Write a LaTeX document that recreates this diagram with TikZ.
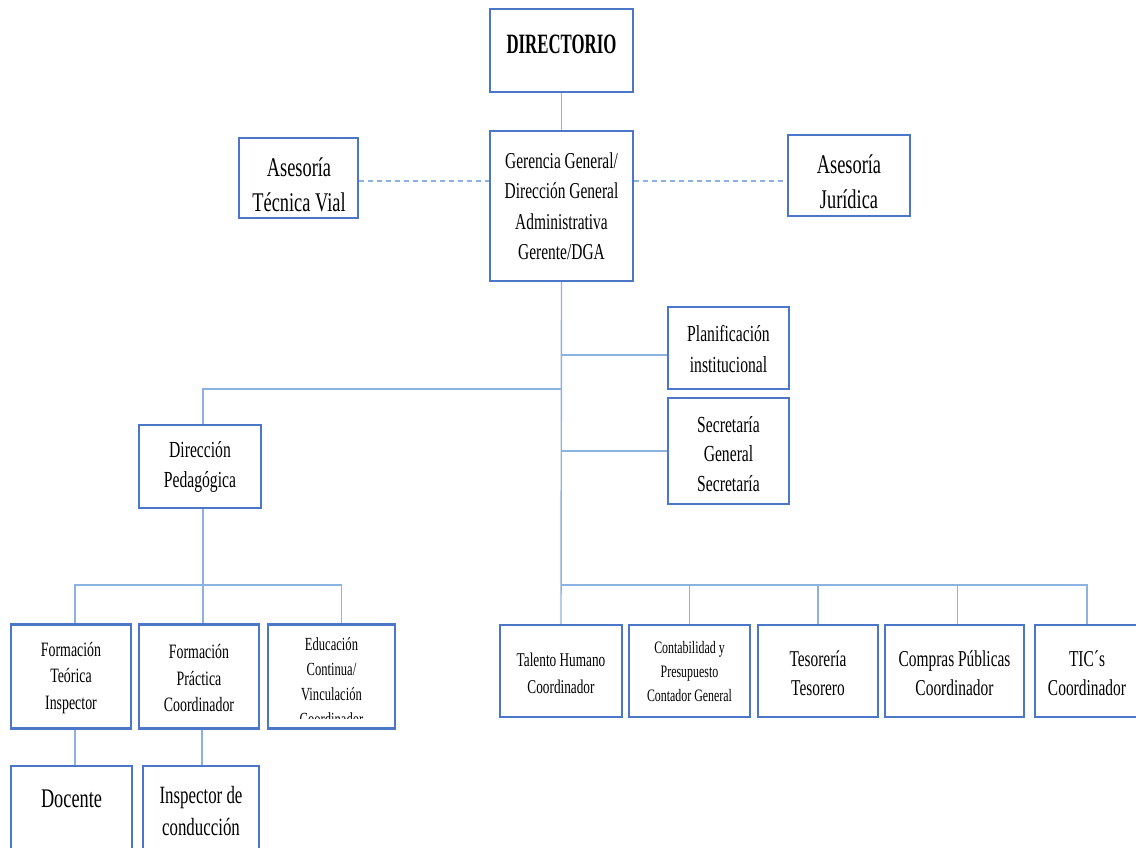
\documentclass[tikz,border=0pt]{standalone}
\usepackage{fontspec}
\setmainfont{Liberation Serif}[FakeStretch=0.68]
\newfontfamily\headfont{Liberation Serif}[FakeStretch=0.6]
\definecolor{boxblue}{RGB}{76,118,200}
\definecolor{linkblue}{RGB}{140,178,226}
\newcommand\fs[2]{\fontsize{#1}{#2}\selectfont}
\begin{document}
\begin{tikzpicture}[x=1pt,y=-1pt,
  box/.style={draw=boxblue, line width=2.3pt, rectangle, inner sep=0pt, fill=white},
  lbl/.style={align=center, inner sep=0pt, text=black},
  link/.style={draw=linkblue, line width=1.4pt},
  dlink/.style={link, dash pattern=on 5pt off 4pt}]
\useasboundingbox (0,0) rectangle (1136,847);
\clip (0,0) rectangle (1136,847);

% junction points of the connector tree
\coordinate (jP) at (561.5,389);
\coordinate (jR) at (561.5,585);
\coordinate (jL) at (203,585);

% boxes
\node[box, minimum width=143pt, minimum height=83pt]  (dir)  at (561.5,50.5) {};
\node[box, minimum width=143pt, minimum height=150pt] (ger)  at (561.5,206) {};
\node[box, minimum width=119pt, minimum height=80pt]  (tv)   at (298.5,178) {};
\node[box, minimum width=122pt, minimum height=81pt]  (jur)  at (849,175.5) {};
\node[box, minimum width=121pt, minimum height=82pt]  (plan) at (728.5,348) {};
\node[box, minimum width=121pt, minimum height=106pt] (sec)  at (728.5,451) {};
\node[box, minimum width=122pt, minimum height=83pt]  (dped) at (200,466.5) {};
\node[box, minimum width=120pt, minimum height=104pt] (ft)   at (71,676.5) {};
\node[box, minimum width=120pt, minimum height=104pt] (fp)   at (199,676.5) {};
\node[box, minimum width=127pt, minimum height=104pt] (ec)   at (331.5,676.5) {};
\node[box, minimum width=122pt, minimum height=92pt]  (tal)  at (561,671) {};
\node[box, minimum width=121pt, minimum height=92pt]  (con)  at (689.5,671) {};
\node[box, minimum width=120pt, minimum height=92pt]  (tes)  at (818,671) {};
\node[box, minimum width=139pt, minimum height=92pt]  (com)  at (954.5,671) {};
\node[box, minimum width=104pt, minimum height=92pt]  (tic)  at (1087,671) {};
\node[box, minimum width=121pt, minimum height=134pt] (doc)  at (71.5,833) {};
\node[box, minimum width=116pt, minimum height=134pt] (insp) at (201,833) {};

% connectors
\draw[link] (dir.south) -- (ger.north);
\draw[dlink] ([yshift=-3pt]tv.east) -- ([yshift=-3pt]tv.east -| ger.west);
\draw[dlink] ([yshift=-3pt]ger.east |- tv.east) -- ([yshift=-3pt]jur.west |- tv.east);
\draw[link] (ger.south) -- (tal.north);
\draw[link] (ger.south |- plan.west) ++(0,7) -- ([yshift=-7pt]plan.west);
\draw[link] (ger.south |- sec.west) -- (sec.west);
\draw[link] (jP) -| ([xshift=3pt]dped.north);
\draw[link] ([xshift=3pt]dped.south) -- ([xshift=4pt]fp.north);
\draw[link] (jL) -| ([xshift=4pt]ft.north);
\draw[link] (jL) -| ([xshift=10pt]ec.north);
\draw[link] (jR) -| (con.north);
\draw[link] (jR) -| (tes.north);
\draw[link] (jR) -| ([xshift=3pt]com.north);
\draw[link] (jR) -| (tic.north);
\draw[link] ([xshift=4pt]ft.south) -- ([xshift=3.5pt]doc.north);
\draw[link] ([xshift=3pt]fp.south) -- ([xshift=1pt]insp.north);

% labels
\node[lbl, font=\headfont\fs{28}{32}\bfseries] (dir-t) at (561.5,44) {DIRECTORIO};
\node[lbl, font=\fs{22.7}{30.5}] (ger-t) at (561.5,206) {Gerencia General/\\Dirección General\\Administrativa\\Gerente/DGA};
\node[lbl, font=\fs{27}{35}] (tv-t) at (299,185) {Asesoría\\Técnica Vial};
\node[lbl, font=\fs{27}{35}] (jur-t) at (849,182) {Asesoría\\Jurídica};
\node[lbl, font=\fs{23}{31}] (plan-t) at (728.5,349) {Planificación\\institucional};
\node[lbl, font=\fs{23}{29.5}] (sec-t) at (728.5,454) {Secretaría\\General\\Secretaría};
\node[lbl, font=\fs{23}{30}] (dped-t) at (200,467) {Dirección\\Pedagógica};
\node[lbl, font=\fs{20.4}{26.5}] (ft-t) at (71,678) {Formación\\Teórica\\Inspector};
\node[lbl, font=\fs{20.4}{26.5}] (fp-t) at (199,678) {Formación\\Práctica\\Coordinador};
\begin{scope}
  \clip (268,626) rectangle (395,718.5);
  \node[lbl, anchor=north, font=\fs{18.5}{25}] (ec-t) at (331.5,637) {Educación\\Continua/\\Vinculación\\Coordinador};
\end{scope}
\node[lbl, font=\fs{19.5}{27}] (tal-t) at (561,673) {Talento Humano\\Coordinador};
\node[lbl, font=\fs{17.5}{24}] (con-t) at (689.5,672) {Contabilidad y\\Presupuesto\\Contador General};
\node[lbl, font=\fs{22.6}{29}] (tes-t) at (818,673) {Tesorería\\Tesorero};
\node[lbl, font=\fs{22.7}{29}] (com-t) at (954.5,673) {Compras Públicas\\Coordinador};
\node[lbl, font=\fs{22.7}{29}] (tic-t) at (1087,673) {TIC´s\\Coordinador};
\node[lbl, font=\fs{26.9}{32}] (doc-t) at (71.5,799) {Docente};
\node[lbl, font=\fs{24.8}{32}] (insp-t) at (201,811) {Inspector de\\conducción};
\end{tikzpicture}
\end{document}
